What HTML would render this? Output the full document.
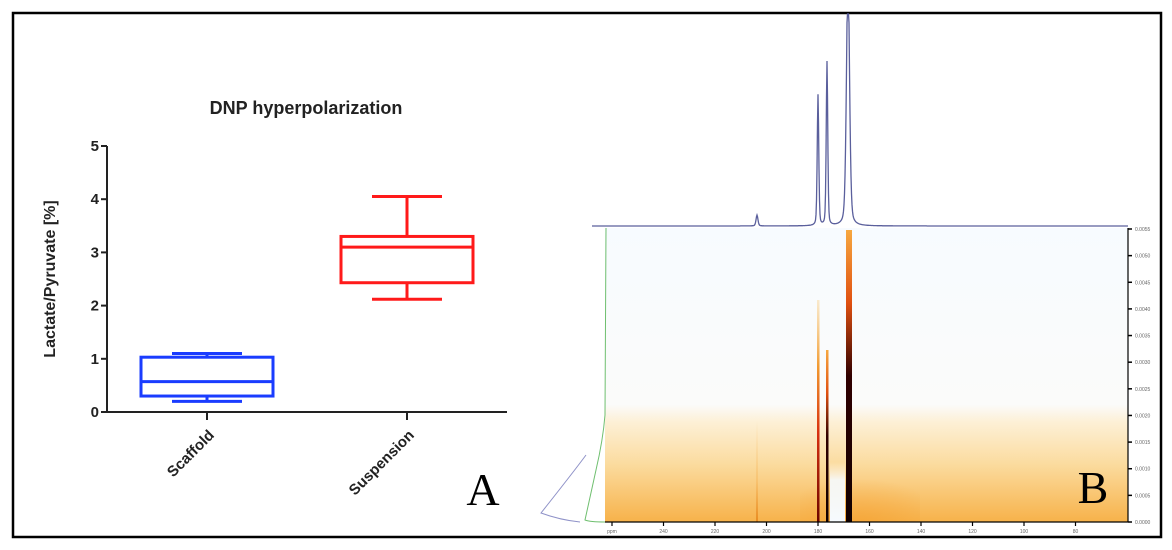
<!DOCTYPE html>
<html><head><meta charset="utf-8"><style>
html,body{margin:0;padding:0;background:#fff;width:1172px;height:550px;overflow:hidden}
svg{display:block;font-family:"Liberation Sans",Arial,sans-serif}
</style></head><body>
<svg id="fig" width="1172" height="550" viewBox="0 0 1172 550">
<defs>
<linearGradient id="bgGrad" x1="0" y1="0" x2="0" y2="1">
<stop offset="0" stop-color="#f7fbff"/>
<stop offset="0.6" stop-color="#fbfbfa"/>
<stop offset="0.66" stop-color="#fdf0d6"/>
<stop offset="0.8" stop-color="#fbdca0"/>
<stop offset="1" stop-color="#f7b24a"/>
</linearGradient>
<linearGradient id="streakRed" x1="0" y1="0" x2="0" y2="1">
<stop offset="0" stop-color="#f9c060" stop-opacity="0.3"/>
<stop offset="0.3" stop-color="#f29a30"/>
<stop offset="0.6" stop-color="#d83010"/>
<stop offset="1" stop-color="#6a0500"/>
</linearGradient>
<linearGradient id="streakBig" x1="0" y1="0" x2="0" y2="1">
<stop offset="0" stop-color="#f7a840"/>
<stop offset="0.25" stop-color="#e05010"/>
<stop offset="0.5" stop-color="#300000"/>
<stop offset="1" stop-color="#100000"/>
</linearGradient>
<linearGradient id="streakFaint" x1="0" y1="0" x2="0" y2="1">
<stop offset="0" stop-color="#f7c070" stop-opacity="0"/>
<stop offset="0.6" stop-color="#f5b050" stop-opacity="0.4"/>
<stop offset="1" stop-color="#e88a20"/>
</linearGradient>
<radialGradient id="glow" cx="0.5" cy="1" r="0.7">
<stop offset="0" stop-color="#f5a030" stop-opacity="0.6"/>
<stop offset="1" stop-color="#f5a030" stop-opacity="0"/>
</radialGradient>
<linearGradient id="gapGrad" x1="0" y1="0" x2="0" y2="1">
<stop offset="0" stop-color="#ffffff" stop-opacity="0"/>
<stop offset="0.3" stop-color="#f6fbff" stop-opacity="0.9"/>
<stop offset="1" stop-color="#f6fbff"/>
</linearGradient>
</defs>
<rect x="13" y="13" width="1148" height="524" fill="none" stroke="#000" stroke-width="2.5"/>

<g id="panelA">
<text x="306" y="114" text-anchor="middle" font-size="18" font-weight="bold" fill="#222">DNP hyperpolarization</text>
<text transform="translate(55,279) rotate(-90)" text-anchor="middle" font-size="16" font-weight="bold" fill="#222">Lactate/Pyruvate [%]</text>
<g id="axes"></g>
<g id="boxes"></g>
<text x="483" y="505" text-anchor="middle" font-size="46" font-family="Liberation Serif,serif" fill="#000">A</text>
</g>

<g id="panelB">
<rect x="605" y="228" width="523" height="294" fill="url(#bgGrad)"/>
<rect x="800" y="460" width="120" height="62" fill="url(#glow)"/>
<rect x="830" y="462" width="15" height="60" fill="url(#gapGrad)"/>
<rect x="756" y="420" width="2" height="102" fill="url(#streakFaint)"/>
<rect x="817" y="300" width="2.5" height="222" fill="url(#streakRed)"/>
<rect x="826" y="350" width="2.5" height="172" fill="url(#streakBig)"/>
<rect x="846" y="230" width="6" height="292" fill="url(#streakBig)"/>
<path id="spectrum" fill="none" stroke="#5a5f9c" stroke-width="1.3"/>
<path d="M606,228 L605,415 Q603,440 596,470 L585,520 Q590,522 605,522" fill="none" stroke="#6fbf6f" stroke-width="1"/>
<path d="M586,455 Q575,470 541,513 Q560,520 580,522" fill="none" stroke="#8f92c8" stroke-width="1"/>
<line x1="1128" y1="228" x2="1128" y2="522" stroke="#000" stroke-width="1.2"/>
<line x1="605" y1="522" x2="1128" y2="522" stroke="#000" stroke-width="1.2"/>
<g id="rticks"></g>
<g id="bticks"></g>
<text x="1093" y="503" text-anchor="middle" font-size="46" font-family="Liberation Serif,serif" fill="#000">B</text>
</g>
</svg>
<script>
const categories = ["Scaffold","Suspension"];
const whiskerMin = [0.2, 2.12];
const q1 = [0.3, 2.43];
const median = [0.57, 3.1];
const q3 = [1.03, 3.3];
const whiskerMax = [1.1, 4.05];
const boxColors = ["#1a3cff","#ff1a1a"];
const yTicks = [0,1,2,3,4,5];

const NS="http://www.w3.org/2000/svg";
const x0=107, y0=412, pxPerUnit=53.2;
const catX=i=>207+i*200;
const yS=v=>y0-v*pxPerUnit;
function mk(tag,attrs,parent){const e=document.createElementNS(NS,tag);for(const k in attrs)e.setAttribute(k,attrs[k]);parent.appendChild(e);return e;}
const axes=document.getElementById('axes');
let e=mk('line',{x1:x0,y1:yS(5),x2:x0,y2:y0,stroke:'#222','stroke-width':2},axes);


e=mk('line',{x1:x0,y1:y0,x2:507,y2:y0,stroke:'#222','stroke-width':2},axes);


yTicks.forEach(t=>{
 let l=mk('line',{x1:x0-6,y1:yS(t),x2:x0,y2:yS(t),stroke:'#222','stroke-width':2},axes);
 
 
 let tx=mk('text',{x:x0-8,y:yS(t)+5,'text-anchor':'end','font-size':15,'font-weight':'bold',fill:'#222'},axes);
 tx.textContent=t;
 
 
});
const boxes=document.getElementById('boxes');
categories.forEach((c,i)=>{
 const cx=catX(i), col=boxColors[i], hw=66, cw=35;
 let l=mk('line',{x1:cx,y1:y0,x2:cx,y2:y0+8,stroke:'#222','stroke-width':2},axes);
 
 
 let tx=mk('text',{transform:`translate(${cx+8},${y0+24}) rotate(-45)`,'text-anchor':'end','font-size':15,'font-weight':'bold',fill:'#222'},axes);
 tx.textContent=c;
 
 
 const g=mk('g',{stroke:col,'stroke-width':3,fill:'none'},boxes);
 
 
 mk('line',{x1:cx,y1:yS(whiskerMax[i]),x2:cx,y2:yS(q3[i])},g);
 mk('line',{x1:cx,y1:yS(q1[i]),x2:cx,y2:yS(whiskerMin[i])},g);
 mk('line',{x1:cx-cw,y1:yS(whiskerMax[i]),x2:cx+cw,y2:yS(whiskerMax[i])},g);
 mk('line',{x1:cx-cw,y1:yS(whiskerMin[i]),x2:cx+cw,y2:yS(whiskerMin[i])},g);
 mk('rect',{x:cx-hw,y:yS(q3[i]),width:2*hw,height:yS(q1[i])-yS(q3[i])},g);
 mk('line',{x1:cx-hw,y1:yS(median[i]),x2:cx+hw,y2:yS(median[i])},g);
});

// spectrum (panel B)
const peakPos = [757, 818, 827, 848];
const peakHeight = [11, 131, 164, 260];
const peakWidth = [1.0, 0.8, 0.8, 1.6];
let d='';
for(let x=592;x<=1128;x+=0.5){
 let y=226;
 peakPos.forEach((p,k)=>{const w=peakWidth[k];const u=(x-p)/w;y-=peakHeight[k]*(0.6*Math.exp(-u*u/2)+0.4/(1+u*u));});
 y=Math.max(y,14);
 d+=(d?'L':'M')+x.toFixed(1)+','+y.toFixed(1);
}
document.getElementById('spectrum').setAttribute('d',d);

const rightTickLabels=["0.0055","0.0050","0.0045","0.0040","0.0035","0.0030","0.0025","0.0020","0.0015","0.0010","0.0005","0.0000"];
const rt=document.getElementById('rticks');
rightTickLabels.forEach((s,i)=>{
 const y=229+i*(293/11);
 let l=mk('line',{x1:1128,y1:y,x2:1132,y2:y,stroke:'#000','stroke-width':1.5},rt);
 
 
 let t=mk('text',{x:1135,y:y+2,'font-size':5,fill:'#666'},rt);
 t.textContent=s;
 
 
});
const bottomTickLabels=["ppm","240","220","200","180","160","140","120","100","80"];
const bt=document.getElementById('bticks');
bottomTickLabels.forEach((s,i)=>{
 const x=612+i*51.5;
 let l=mk('line',{x1:x,y1:522,x2:x,y2:526,stroke:'#000','stroke-width':1.2},bt);
 
 
 let t=mk('text',{x:x,y:533,'text-anchor':'middle','font-size':5,fill:'#666'},bt);
 t.textContent=s;
 
 
});
</script>
</body></html>
